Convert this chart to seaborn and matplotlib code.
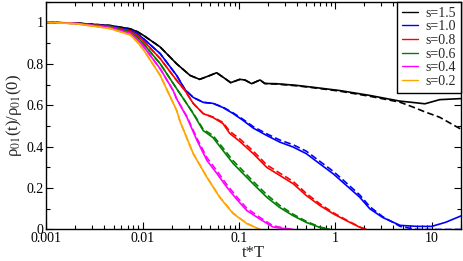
import numpy as np
import pandas as pd
import matplotlib
matplotlib.use("Agg")
import matplotlib.pyplot as plt
import seaborn as sns
from matplotlib.ticker import FixedLocator, LogLocator, NullFormatter, MultipleLocator

# s = 1.5 (black)
t_15 = [0.001, 0.002, 0.0046, 0.0074, 0.0088, 0.0102, 0.0152, 0.0225, 0.031, 0.039, 0.050,
        0.0585, 0.068, 0.082, 0.102, 0.115, 0.135, 0.165, 0.185, 0.245, 0.395, 0.63, 1.11,
        2.3, 4.66, 6.5, 8.5, 12.1, 20.0]
y_15 = [1.0, 0.997, 0.985, 0.969, 0.955, 0.937, 0.881, 0.80, 0.744, 0.725, 0.744,
        0.757, 0.736, 0.709, 0.725, 0.722, 0.704, 0.722, 0.705, 0.704, 0.696, 0.685, 0.671,
        0.647, 0.62, 0.613, 0.607, 0.627, 0.632]
y_15d = [1.0, 0.997, 0.985, 0.969, 0.955, 0.937, 0.881, 0.80, 0.744, 0.725, 0.744,
         0.757, 0.736, 0.709, 0.725, 0.722, 0.704, 0.722, 0.705, 0.702, 0.694, 0.683, 0.668,
         0.643, 0.615, 0.59, 0.568, 0.542, 0.485]

# s = 1.0 (blue)
t_10 = [0.001, 0.002, 0.0046, 0.0074, 0.0088, 0.0102, 0.0152, 0.0225, 0.0275, 0.0334,
        0.0424, 0.0536, 0.068, 0.0867, 0.11, 0.14, 0.194, 0.265, 0.365, 0.50, 0.69, 0.95,
        1.30, 1.79, 2.28, 3.1, 4.7, 7.0, 10.0, 14.0, 20.0]
y_10 = [1.0, 0.996, 0.982, 0.963, 0.945, 0.921, 0.849, 0.744, 0.675, 0.638,
        0.614, 0.609, 0.589, 0.56, 0.527, 0.49, 0.454, 0.422, 0.398, 0.366, 0.317, 0.269,
        0.213, 0.156, 0.10, 0.058, 0.02, 0.015, 0.015, 0.035, 0.065]
y_10d = [1.0, 0.996, 0.982, 0.963, 0.945, 0.921, 0.849, 0.744, 0.675, 0.638,
         0.614, 0.609, 0.591, 0.563, 0.532, 0.497, 0.462, 0.432, 0.409, 0.378, 0.329, 0.281,
         0.225, 0.167, 0.11, 0.062, 0.015, 0.0, 0.0, 0.0, 0.0]

# s = 0.8 (red)
t_08 = [0.001, 0.002, 0.0046, 0.0074, 0.0088, 0.0102, 0.0152, 0.0225, 0.0275, 0.0334,
        0.0424, 0.0536, 0.068, 0.080, 0.102, 0.14, 0.194, 0.265, 0.365, 0.50, 0.69, 0.95,
        1.30, 1.79, 2.1]
y_08 = [1.0, 0.996, 0.98, 0.958, 0.938, 0.91, 0.825, 0.72, 0.671, 0.609,
        0.56, 0.541, 0.512, 0.464, 0.425, 0.367, 0.30, 0.261, 0.221, 0.164, 0.116, 0.076,
        0.043, 0.011, 0.0]
y_08d = [1.0, 0.996, 0.98, 0.958, 0.938, 0.91, 0.825, 0.72, 0.671, 0.609,
         0.56, 0.543, 0.517, 0.474, 0.437, 0.379, 0.312, 0.272, 0.232, 0.174, 0.124, 0.081,
         0.046, 0.012, 0.0]

# s = 0.6 (green)
t_06 = [0.001, 0.002, 0.0046, 0.0074, 0.0088, 0.0102, 0.0152, 0.0225, 0.0275, 0.0334,
        0.0424, 0.0536, 0.068, 0.0867, 0.11, 0.139, 0.195, 0.265, 0.36, 0.50, 0.69, 0.88]
y_06 = [1.0, 0.995, 0.978, 0.953, 0.928, 0.897, 0.80, 0.68, 0.62, 0.56,
        0.478, 0.444, 0.382, 0.319, 0.27, 0.222, 0.155, 0.106, 0.068, 0.034, 0.01, 0.0]
y_06d = [1.0, 0.995, 0.978, 0.953, 0.928, 0.897, 0.80, 0.68, 0.62, 0.562,
         0.484, 0.454, 0.394, 0.332, 0.283, 0.234, 0.167, 0.116, 0.075, 0.039, 0.012, 0.0]

# s = 0.4 (magenta)
t_04 = [0.001, 0.002, 0.0046, 0.0074, 0.0088, 0.0102, 0.0152, 0.0207, 0.0225, 0.0288,
        0.0366, 0.0465, 0.059, 0.075, 0.095, 0.12, 0.165, 0.225, 0.31, 0.37]
y_04 = [1.0, 0.995, 0.975, 0.948, 0.918, 0.884, 0.776, 0.671, 0.631, 0.541,
        0.43, 0.333, 0.27, 0.203, 0.145, 0.092, 0.05, 0.012, 0.003, 0.0]
y_04d = [1.0, 0.995, 0.975, 0.948, 0.918, 0.884, 0.776, 0.671, 0.631, 0.545,
         0.44, 0.346, 0.283, 0.215, 0.157, 0.103, 0.058, 0.018, 0.005, 0.0]

# s = 0.2 (orange)
t_02 = [0.001, 0.002, 0.0046, 0.0074, 0.0088, 0.0102, 0.0152, 0.018, 0.0225, 0.0245,
        0.0334, 0.0465, 0.063, 0.0867, 0.12, 0.165]
y_02 = [1.0, 0.994, 0.97, 0.94, 0.905, 0.868, 0.744, 0.671, 0.575, 0.52,
        0.367, 0.251, 0.155, 0.077, 0.029, 0.0]
y_02d = [1.0, 0.994, 0.97, 0.94, 0.905, 0.868, 0.744, 0.671, 0.575, 0.52,
         0.367, 0.252, 0.157, 0.079, 0.03, 0.0]

labels = ["s=1.5", "s=1.0", "s=0.8", "s=0.6", "s=0.4", "s=0.2"]
colors = ["black", "#0000ff", "#ff0000", "#008000", "#ff00ff", "#ffa500"]
series = [(t_15, y_15, y_15d), (t_10, y_10, y_10d), (t_08, y_08, y_08d),
          (t_06, y_06, y_06d), (t_04, y_04, y_04d), (t_02, y_02, y_02d)]

sns.set_style("ticks")
plt.rcParams["font.family"] = ["Liberation Serif", "DejaVu Serif"]
plt.rcParams["mathtext.fontset"] = "stix"

fig = plt.figure(figsize=(4.63, 2.61), dpi=100)
ax = fig.add_axes([0.1002, 0.1207, 0.8948, 0.8728])

for (t, y, yd), lab, c in zip(series, labels, colors):
    sns.lineplot(x=t, y=y, ax=ax, color=c, lw=1.2, label=lab, sort=False)
    sns.lineplot(x=t, y=yd, ax=ax, color=c, lw=1.2, sort=False,
                 linestyle=(0, (4, 2)), label="_nolegend_")

ax.set_xscale("log")
ax.set_xlim(0.001, 20)
ax.set_ylim(0, 1.1)

ax.xaxis.set_major_locator(FixedLocator([0.001, 0.01, 0.1, 1, 10]))
ax.set_xticklabels(["0.001", "0.01", "0.1", "1", "10"])
ax.xaxis.set_minor_locator(LogLocator(base=10, subs=np.arange(2, 10)))
ax.xaxis.set_minor_formatter(NullFormatter())
ax.yaxis.set_major_locator(FixedLocator([0, 0.2, 0.4, 0.6, 0.8, 1.0]))
ax.set_yticklabels(["0", "0.2", "0.4", "0.6", "0.8", "1"])
ax.yaxis.set_minor_locator(MultipleLocator(0.1))

ax.tick_params(which="both", direction="in", top=True, right=True, labelsize=10,
               width=0.8, colors="black", pad=2)
ax.tick_params(which="major", length=5)
ax.tick_params(which="minor", length=3)
for sp in ax.spines.values():
    sp.set_linewidth(1.0)
    sp.set_color("black")

ax.set_xlabel("t*T", fontsize=12, labelpad=0)
ax.set_ylabel("ρ$_{01}$(t)/ρ$_{01}$(0)", fontsize=12, labelpad=2)

leg = ax.legend(loc="upper right", borderaxespad=0, fontsize=10, frameon=True,
                fancybox=False, edgecolor="black", framealpha=1,
                handlelength=1.2, labelspacing=0.05, borderpad=0.35, handletextpad=0.5)
leg.get_frame().set_linewidth(1.0)
for line in leg.get_lines():
    line.set_linewidth(1.0)

fig.savefig("out.png", dpi=100)
